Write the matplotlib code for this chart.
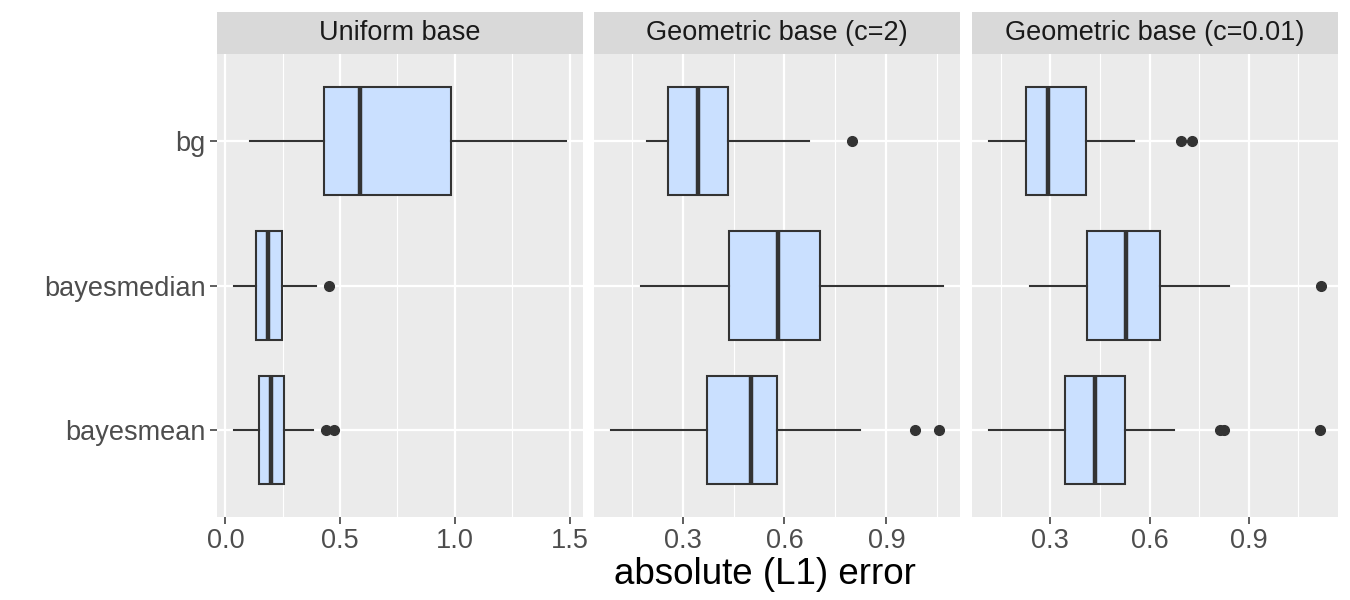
#Boxplots of absolute (L1) error, three facets (ggplot look)
import numpy as np
import matplotlib.pyplot as plt

plt.rcParams['font.family'] = ['Liberation Sans', 'DejaVu Sans']

groups = ["bayesmean", "bayesmedian", "bg"]
panels = ["Uniform base", "Geometric base (c=2)", "Geometric base (c=0.01)"]

#Uniform base
uni_lo = [0.036, 0.039, 0.106]
uni_q1 = [0.145, 0.134, 0.429]
uni_med = [0.200, 0.187, 0.588]
uni_q3 = [0.257, 0.247, 0.984]
uni_hi = [0.381, 0.395, 1.486]
uni_out = [[0.439, 0.472], [0.452], []]

#Geometric base (c=2)
geo2_lo = [0.088, 0.176, 0.196]
geo2_q1 = [0.373, 0.437, 0.258]
geo2_med = [0.500, 0.582, 0.345]
geo2_q3 = [0.578, 0.706, 0.433]
geo2_hi = [0.821, 1.068, 0.672]
geo2_out = [[0.984, 1.055], [], [0.799]]

#Geometric base (c=0.01)
geo01_lo = [0.115, 0.237, 0.113]
geo01_q1 = [0.344, 0.411, 0.226]
geo01_med = [0.436, 0.530, 0.293]
geo01_q3 = [0.525, 0.631, 0.409]
geo01_hi = [0.674, 0.840, 0.553]
geo01_out = [[0.812, 0.825, 1.116], [1.120], [0.695, 0.728]]

data = [
    (uni_lo, uni_q1, uni_med, uni_q3, uni_hi, uni_out),
    (geo2_lo, geo2_q1, geo2_med, geo2_q3, geo2_hi, geo2_out),
    (geo01_lo, geo01_q1, geo01_med, geo01_q3, geo01_hi, geo01_out),
]
major_ticks = [[0.0, 0.5, 1.0, 1.5], [0.3, 0.6, 0.9], [0.3, 0.6, 0.9]]
minor_ticks = [[0.25, 0.75, 1.25], [0.15, 0.45, 0.75, 1.05], [0.15, 0.45, 0.75, 1.05]]

W, H = 1350, 600
lefts = [217, 594, 972]
pw = 366
ptop, pbot = 54, 517
stop = 12

fig = plt.figure(figsize=(13.5, 6), dpi=100)
dark = "#333333"

for i in range(3):
    lo, q1, med, q3, hi, out = data[i]
    ax = fig.add_axes([lefts[i]/W, 1-pbot/H, pw/W, (pbot-ptop)/H])
    ax.set_facecolor("#EBEBEB")
    for s in ax.spines.values():
        s.set_visible(False)
    stats = [dict(whislo=lo[j], q1=q1[j], med=med[j], q3=q3[j], whishi=hi[j], fliers=out[j])
             for j in range(len(groups))]
    ax.bxp(stats, positions=[1, 2, 3], widths=0.75, orientation="horizontal",
           patch_artist=True, showcaps=False,
           boxprops=dict(facecolor="#CAE0FF", edgecolor=dark, linewidth=1.5),
           medianprops=dict(color=dark, linewidth=3.2),
           whiskerprops=dict(color=dark, linewidth=1.5),
           flierprops=dict(marker="o", markerfacecolor=dark, markeredgecolor=dark, markersize=7))
    allv = lo + hi + [v for o in out for v in o]
    rng = max(allv) - min(allv)
    ax.set_xlim(min(allv) - 0.05*rng, max(allv) + 0.05*rng)
    ax.set_ylim(0.4, 3.6)
    ax.set_xticks(major_ticks[i])
    ax.set_xticks(minor_ticks[i], minor=True)
    ax.set_xticklabels(["%.1f" % t for t in major_ticks[i]])
    ax.set_yticks([1, 2, 3])
    ax.grid(which="major", color="white", linewidth=1.6)
    ax.grid(which="minor", axis="x", color="white", linewidth=0.8)
    ax.set_axisbelow(True)
    ax.tick_params(which="minor", length=0)
    ax.tick_params(which="major", length=5, width=1.1, color=dark,
                   labelcolor="#4D4D4D", labelsize=19.5, pad=3)
    if i == 0:
        ax.set_yticklabels(groups)
    else:
        ax.set_yticklabels([])
        ax.tick_params(axis="y", length=0)

    sax = fig.add_axes([lefts[i]/W, 1-ptop/H, pw/W, (ptop-stop)/H])
    sax.set_facecolor("#D9D9D9")
    sax.set_xticks([])
    sax.set_yticks([])
    for s in sax.spines.values():
        s.set_visible(False)
    sax.text(0.5, 0.5, panels[i], ha="center", va="center", size=19.5,
             color="#1A1A1A", transform=sax.transAxes)

fig.text(765/W, 1-575/H, "absolute (L1) error",
         ha="center", va="center", size=26.5, color="black")

plt.savefig("out.png", dpi=100)
